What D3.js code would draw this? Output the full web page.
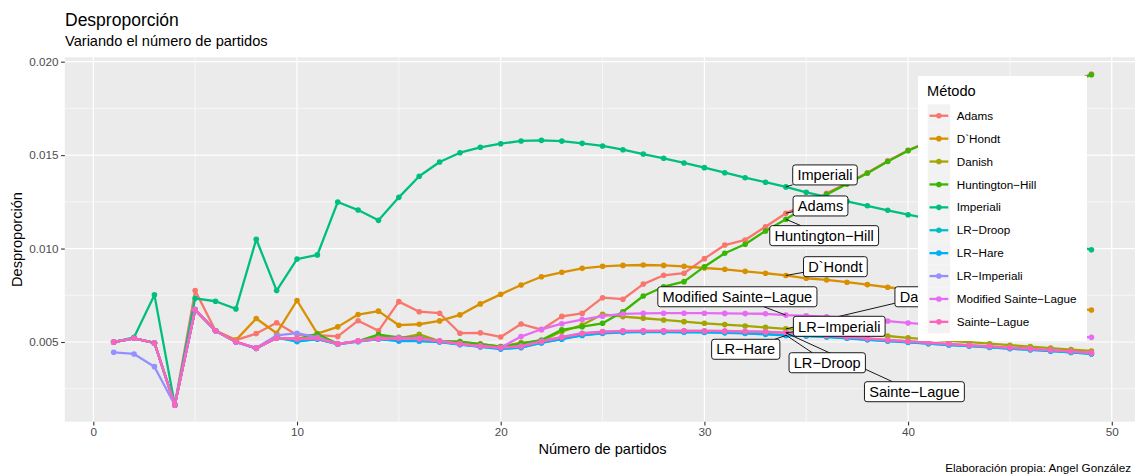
<!DOCTYPE html>
<html>
<head>
<meta charset="utf-8">
<script src="https://cdn.jsdelivr.net/npm/d3@7"></script>
<style>
  html, body { margin: 0; padding: 0; background: #fff; }
  svg { display: block; font-family: "Liberation Sans", Arial, Helvetica, sans-serif; }
</style>
</head>
<body>
<svg id="chart" width="1135" height="475"></svg>
<script>
// ---------- data ----------
const partidos = d3.range(1, 50);
const methods = ["Adams", "D`Hondt", "Danish", "Huntington\u2212Hill", "Imperiali", "LR\u2212Droop", "LR\u2212Hare", "LR\u2212Imperiali", "Modified Sainte\u2212Lague", "Sainte\u2212Lague"];
const colors = ["#F8766D", "#D89000", "#A3A500", "#39B600", "#00BF7D", "#00BFC4", "#00B0F6", "#9590FF", "#E76BF3", "#FF62BC"];

const adams = [0.00500,0.00520,0.00495,0.00163,0.00775,0.00560,0.00510,0.00545,0.00603,0.00537,0.00537,0.00530,0.00614,0.00560,0.00716,0.00662,0.00654,0.00547,0.00549,0.00527,0.00596,0.00566,0.00637,0.00653,0.00737,0.00729,0.00810,0.00857,0.00868,0.00946,0.01019,0.01046,0.01117,0.01189,0.01240,0.01296,0.01349,0.01406,0.01469,0.01526,0.01573,0.01619,0.01664,0.01709,0.01754,0.01799,0.01845,0.01889,0.01934];
const dhondt = [0.00500,0.00520,0.00495,0.00163,0.00672,0.00560,0.00510,0.00626,0.00547,0.00722,0.00545,0.00581,0.00647,0.00665,0.00590,0.00595,0.00613,0.00645,0.00704,0.00755,0.00805,0.00849,0.00873,0.00894,0.00905,0.00910,0.00912,0.00910,0.00905,0.00896,0.00889,0.00878,0.00868,0.00856,0.00841,0.00832,0.00820,0.00807,0.00793,0.00780,0.00768,0.00756,0.00744,0.00732,0.00720,0.00707,0.00695,0.00683,0.00671];
const danish = [0.00500,0.00520,0.00495,0.00163,0.00672,0.00560,0.00500,0.00467,0.00522,0.00516,0.00520,0.00490,0.00505,0.00530,0.00520,0.00541,0.00505,0.00500,0.00490,0.00475,0.00497,0.00505,0.00556,0.00591,0.00648,0.00636,0.00627,0.00618,0.00609,0.00600,0.00593,0.00586,0.00578,0.00570,0.00562,0.00555,0.00546,0.00538,0.00532,0.00522,0.00514,0.00506,0.00499,0.00491,0.00483,0.00475,0.00467,0.00459,0.00452];
const huntington = [0.00500,0.00520,0.00495,0.00163,0.00672,0.00560,0.00500,0.00467,0.00522,0.00516,0.00543,0.00490,0.00505,0.00540,0.00525,0.00525,0.00505,0.00502,0.00488,0.00475,0.00490,0.00511,0.00565,0.00582,0.00600,0.00662,0.00746,0.00796,0.00823,0.00903,0.00975,0.01023,0.01094,0.01157,0.01224,0.01290,0.01345,0.01403,0.01466,0.01524,0.01570,0.01616,0.01661,0.01706,0.01751,0.01796,0.01842,0.01886,0.01930];
const imperiali = [0.00500,0.00525,0.00752,0.00163,0.00734,0.00718,0.00677,0.01050,0.00775,0.00944,0.00966,0.01249,0.01206,0.01151,0.01274,0.01387,0.01463,0.01513,0.01542,0.01561,0.01576,0.01579,0.01575,0.01563,0.01549,0.01529,0.01506,0.01483,0.01458,0.01433,0.01406,0.01379,0.01355,0.01330,0.01301,0.01277,0.01253,0.01229,0.01205,0.01181,0.01160,0.01139,0.01118,0.01097,0.01076,0.01055,0.01035,0.01014,0.00994];
const lrDroop = [0.00500,0.00520,0.00495,0.00163,0.00672,0.00560,0.00500,0.00466,0.00524,0.00502,0.00516,0.00489,0.00503,0.00516,0.00507,0.00506,0.00501,0.00487,0.00475,0.00464,0.00471,0.00497,0.00517,0.00537,0.00548,0.00553,0.00555,0.00555,0.00554,0.00553,0.00551,0.00548,0.00543,0.00537,0.00533,0.00528,0.00521,0.00513,0.00506,0.00499,0.00492,0.00485,0.00479,0.00472,0.00465,0.00459,0.00452,0.00445,0.00437];
const lrHare = [0.00500,0.00520,0.00495,0.00163,0.00672,0.00560,0.00500,0.00465,0.00525,0.00505,0.00515,0.00488,0.00502,0.00515,0.00505,0.00505,0.00500,0.00486,0.00474,0.00462,0.00470,0.00495,0.00515,0.00535,0.00546,0.00551,0.00553,0.00553,0.00552,0.00551,0.00549,0.00546,0.00541,0.00535,0.00532,0.00527,0.00520,0.00512,0.00505,0.00498,0.00491,0.00484,0.00478,0.00471,0.00464,0.00458,0.00451,0.00444,0.00436];
const lrImperiali = [0.00445,0.00436,0.00368,0.00163,0.00675,0.00560,0.00500,0.00469,0.00535,0.00547,0.00525,0.00490,0.00505,0.00520,0.00522,0.00520,0.00505,0.00490,0.00478,0.00470,0.00478,0.00505,0.00528,0.00547,0.00556,0.00560,0.00560,0.00560,0.00560,0.00560,0.00559,0.00557,0.00555,0.00550,0.00540,0.00534,0.00526,0.00518,0.00510,0.00503,0.00496,0.00489,0.00482,0.00476,0.00469,0.00463,0.00456,0.00449,0.00440];
const modSainteLague = [0.00500,0.00520,0.00495,0.00163,0.00672,0.00560,0.00500,0.00467,0.00522,0.00516,0.00520,0.00490,0.00505,0.00518,0.00520,0.00518,0.00505,0.00490,0.00478,0.00470,0.00529,0.00568,0.00598,0.00620,0.00638,0.00650,0.00653,0.00654,0.00654,0.00654,0.00653,0.00652,0.00651,0.00644,0.00640,0.00635,0.00629,0.00621,0.00612,0.00602,0.00593,0.00584,0.00575,0.00566,0.00557,0.00548,0.00540,0.00532,0.00525];
const sainteLague = [0.00500,0.00520,0.00495,0.00163,0.00672,0.00560,0.00502,0.00467,0.00522,0.00516,0.00520,0.00490,0.00505,0.00518,0.00520,0.00518,0.00505,0.00490,0.00478,0.00470,0.00476,0.00502,0.00525,0.00545,0.00554,0.00558,0.00560,0.00560,0.00560,0.00559,0.00558,0.00556,0.00554,0.00549,0.00541,0.00535,0.00527,0.00519,0.00511,0.00504,0.00497,0.00490,0.00483,0.00477,0.00470,0.00464,0.00457,0.00450,0.00443];

const seriesValues = [adams, dhondt, danish, huntington, imperiali, lrDroop, lrHare, lrImperiali, modSainteLague, sainteLague];

const xTicks = [0, 10, 20, 30, 40, 50];
const xMinor = [5, 15, 25, 35, 45];
const yTicks = [0.005, 0.010, 0.015, 0.020];
const yMinor = [0.0025, 0.0075, 0.0125, 0.0175];

// repelled labels: anchored at x = 34, label centres in data units
const labelAnchorX = 34;
const labelIndex = [4, 0, 3, 1, 8, 2, 7, 6, 5, 9];
const labelCx = [35.92, 35.70, 35.88, 36.43, 31.62, 40.70, 36.62, 32.03, 36.03, 40.31];
const labelCy = [0.01394, 0.01228, 0.01069, 0.00903, 0.00742, 0.00742, 0.00584, 0.00461, 0.00389, 0.00234];

// ---------- layout ----------
const svg = d3.select("#chart");
const FONT_S = 11.7, FONT_M = 14.6, FONT_L = 17.5;
const x = d3.scaleLinear().domain([-1.4, 51.4]).range([64.8, 1140.3]);
const y = d3.scaleLinear().domain([0.000735, 0.020235]).range([421.7, 57.3]);
const [px0, px1] = x.range();
const [py1, py0] = y.range();

svg.append("rect").attr("width", 1135).attr("height", 475).attr("fill", "#fff");

// panel
svg.append("rect").attr("x", px0).attr("y", py0).attr("width", px1 - px0).attr("height", py1 - py0).attr("fill", "#EBEBEB");

const grid = svg.append("g");
grid.selectAll(".vmin").data(xMinor).join("line")
  .attr("x1", d => x(d)).attr("x2", d => x(d)).attr("y1", py0).attr("y2", py1)
  .attr("stroke", "#fff").attr("stroke-width", 0.6);
grid.selectAll(".hmin").data(yMinor).join("line")
  .attr("y1", d => y(d)).attr("y2", d => y(d)).attr("x1", px0).attr("x2", px1)
  .attr("stroke", "#fff").attr("stroke-width", 0.6);
grid.selectAll(".vmaj").data(xTicks).join("line")
  .attr("x1", d => x(d)).attr("x2", d => x(d)).attr("y1", py0).attr("y2", py1)
  .attr("stroke", "#fff").attr("stroke-width", 1.2);
grid.selectAll(".hmaj").data(yTicks).join("line")
  .attr("y1", d => y(d)).attr("y2", d => y(d)).attr("x1", px0).attr("x2", px1)
  .attr("stroke", "#fff").attr("stroke-width", 1.2);

// axes
const xAxis = svg.append("g").attr("transform", `translate(0,${py1})`)
  .call(d3.axisBottom(x).tickValues(xTicks).tickSize(3.7).tickPadding(2.5).tickFormat(d3.format("d")));
const yAxis = svg.append("g").attr("transform", `translate(${px0},0)`)
  .call(d3.axisLeft(y).tickValues(yTicks).tickSize(3.7).tickPadding(2.5).tickFormat(d3.format(".3f")));
[xAxis, yAxis].forEach(g => {
  g.select(".domain").remove();
  g.selectAll(".tick line").attr("stroke", "#333333").attr("stroke-width", 1.1);
  g.selectAll(".tick text").attr("fill", "#4D4D4D").attr("font-size", FONT_S)
    .attr("font-family", "Liberation Sans, Arial, sans-serif");
});

// clip
svg.append("clipPath").attr("id", "clip").append("rect")
  .attr("x", px0).attr("y", py0).attr("width", px1 - px0).attr("height", py1 - py0);
const plot = svg.append("g").attr("clip-path", "url(#clip)");

const series = methods.map((m, i) => ({
  name: m, color: colors[i],
  values: partidos.map((p, j) => ({ x: p, y: seriesValues[i][j] }))
}));

const line = d3.line().x(d => x(d.x)).y(d => y(d.y));
plot.selectAll(".ln").data(series).join("path")
  .attr("d", d => line(d.values)).attr("fill", "none")
  .attr("stroke", d => d.color).attr("stroke-width", 2.3)
  .attr("stroke-linejoin", "round").attr("stroke-linecap", "butt");
series.forEach(s => {
  plot.append("g").selectAll("circle").data(s.values).join("circle")
    .attr("cx", d => x(d.x)).attr("cy", d => y(d.y)).attr("r", 2.8).attr("fill", s.color);
});

// labels (ggrepel style)
const labG = svg.append("g");
const labData = labelIndex.map((si, k) => {
  const j = partidos.indexOf(labelAnchorX);
  return {
    text: methods[si],
    ax: x(labelAnchorX), ay: y(seriesValues[si][j]),
    cx: x(labelCx[k]), cy: y(labelCy[k])
  };
});
const tmp = svg.append("text").attr("font-size", FONT_M).attr("font-family", "Liberation Sans, Arial, sans-serif");
labData.forEach(d => {
  tmp.text(d.text);
  d.w = tmp.node().getComputedTextLength() + 9.4;
  d.h = 20;
});
tmp.remove();
// segments: from anchor toward label centre, clipped at box edge
labData.forEach(d => {
  const dx = d.cx - d.ax, dy = d.cy - d.ay;
  const hw = d.w / 2, hh = d.h / 2;
  let t = 1;
  if (dx !== 0) t = Math.min(t, Math.abs((Math.abs(dx) - hw) / dx));
  if (dy !== 0) {
    const ty = Math.abs((Math.abs(dy) - hh) / dy);
    t = Math.max(Math.abs(dx) > hw ? Math.abs((Math.abs(dx) - hw) / dx) : 0, Math.abs(dy) > hh ? ty : 0);
  }
  const ex = d.ax + dx * t, ey = d.ay + dy * t;
  const len = Math.hypot(ex - d.ax, ey - d.ay);
  if (len > 6) {
    labG.append("line").attr("x1", d.ax).attr("y1", d.ay).attr("x2", ex).attr("y2", ey)
      .attr("stroke", "#000").attr("stroke-width", 0.9);
  }
});
labData.forEach(d => {
  labG.append("rect").attr("x", d.cx - d.w / 2).attr("y", d.cy - d.h / 2)
    .attr("width", d.w).attr("height", d.h).attr("rx", 2.5).attr("ry", 2.5)
    .attr("fill", "#fff").attr("stroke", "#000").attr("stroke-width", 0.9);
  labG.append("text").attr("x", d.cx).attr("y", d.cy + 5.2)
    .attr("text-anchor", "middle").attr("font-size", FONT_M).attr("fill", "#000").text(d.text);
});

// legend
const lg = svg.append("g");
lg.append("rect").attr("x", 918).attr("y", 76).attr("width", 169).attr("height", 265).attr("fill", "#fff");
lg.append("text").attr("x", 927).attr("y", 96).attr("font-size", FONT_M).attr("fill", "#000").text("M\u00e9todo");
const keyTop = 104.3, keyH = 22.9;
methods.forEach((m, i) => {
  const ky = keyTop + i * keyH;
  lg.append("rect").attr("x", 927.7).attr("y", ky).attr("width", 22.4).attr("height", keyH).attr("fill", "#F2F2F2");
  lg.append("line").attr("x1", 929.5).attr("x2", 948.3).attr("y1", ky + keyH / 2).attr("y2", ky + keyH / 2)
    .attr("stroke", colors[i]).attr("stroke-width", 2.3);
  lg.append("circle").attr("cx", 938.9).attr("cy", ky + keyH / 2).attr("r", 2.8).attr("fill", colors[i]);
  lg.append("text").attr("x", 956.7).attr("y", ky + keyH / 2 + 4.1).attr("font-size", FONT_S).attr("fill", "#000").text(m);
});

// titles
svg.append("text").attr("x", 65).attr("y", 25.5).attr("font-size", FONT_L).attr("fill", "#000").text("Desproporci\u00f3n");
svg.append("text").attr("x", 65).attr("y", 45.5).attr("font-size", FONT_M).attr("fill", "#000").text("Variando el n\u00famero de partidos");
svg.append("text").attr("x", (px0 + px1) / 2).attr("y", 454).attr("text-anchor", "middle")
  .attr("font-size", FONT_M).attr("fill", "#000").text("N\u00famero de partidos");
svg.append("text").attr("transform", `translate(22,${(py0 + py1) / 2}) rotate(-90)`).attr("text-anchor", "middle")
  .attr("font-size", FONT_M).attr("fill", "#000").text("Desproporci\u00f3n");
svg.append("text").attr("x", 1131).attr("y", 472).attr("text-anchor", "end").attr("font-size", FONT_S).attr("fill", "#000")
  .text("Elaboraci\u00f3n propia: Angel Gonz\u00e1lez");
</script>
</body>
</html>
